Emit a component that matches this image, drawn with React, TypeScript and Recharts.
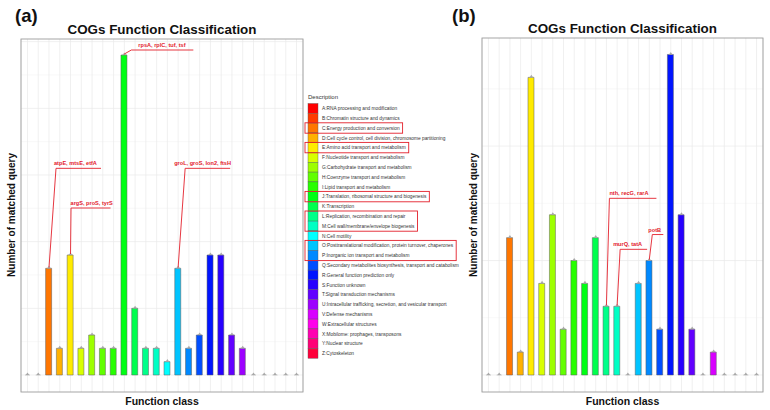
import React from 'react';
import { ComposedChart, Bar, Line, XAxis, YAxis, CartesianGrid, Cell } from 'recharts';

const categories = ['A','B','C','D','E','F','G','H','I','J','K','L','M','N','O','P','Q','R','S','T','U','V','W','X','Y','Z'];
const descriptions = [
  'A:RNA processing and modification',
  'B:Chromatin structure and dynamics',
  'C:Energy production and conversion',
  'D:Cell cycle control, cell division, chromosome partitioning',
  'E:Amino acid transport and metabolism',
  'F:Nucleotide transport and metabolism',
  'G:Carbohydrate transport and metabolism',
  'H:Coenzyme transport and metabolism',
  'I:Lipid transport and metabolism',
  'J:Translation, ribosomal structure and biogenesis',
  'K:Transcription',
  'L:Replication, recombination and repair',
  'M:Cell wall/membrane/envelope biogenesis',
  'N:Cell motility',
  'O:Posttranslational modification, protein turnover, chaperones',
  'P:Inorganic ion transport and metabolism',
  'Q:Secondary metabolites biosynthesis, transport and catabolism',
  'R:General function prediction only',
  'S:Function unknown',
  'T:Signal transduction mechanisms',
  'U:Intracellular trafficking, secretion, and vesicular transport',
  'V:Defense mechanisms',
  'W:Extracellular structures',
  'X:Mobilome: prophages, transposons',
  'Y:Nuclear structure',
  'Z:Cytoskeleton',
];
const valuesA = [0,0,8,2,9,2,3,2,2,24,5,2,2,1,8,2,3,9,9,3,2,0,0,0,0,0];
const valuesB = [0,0,6,1,13,4,7,2,5,4,6,3,3,0,4,5,2,14,7,2,0,1,0,0,0,0];
const yTicksA = [0,5,10,15,20,25];
const yMinorA = [2.5,7.5,12.5,17.5,22.5];
const yTicksB = [0,5,10];
const yMinorB = [2.5,7.5,12.5];
const annotationsA = [
  { cat: 'C', text: 'atpE,  mtsE, etfA' },
  { cat: 'E', text: 'argS, proS, tyrS' },
  { cat: 'J', text: 'rpsA, rplC,  tuf, tsf' },
  { cat: 'O', text: 'groL, groS,  lon2, ftsH' },
];
const annotationsB = [
  { cat: 'L', text: 'nth, recG,  rarA' },
  { cat: 'M', text: 'murQ,  tatA' },
  { cat: 'P', text: 'potB' },
];
const legendHighlights = [['C'],['E'],['J'],['L','M'],['O','P']];

// styles / layout
const colors = ['#FF0000','#FF3B00','#FF7600','#FFB100','#FFEB00','#D8FF00','#9DFF00','#62FF00','#27FF00','#00FF14','#00FF4E','#00FF89','#00FFC4','#00FFFF','#00C4FF','#0089FF','#004EFF','#0014FF','#2700FF','#6200FF','#9D00FF','#D800FF','#FF00EB','#FF00B1','#FF0076','#FF003B'];
const annotLayout: Record<string, { ex: number; ey: number; lx: number; tx: number; ty: number }> = {
  'a-C': { ex: 7, ey: -100, lx: 52, tx: 5, ty: -103 },
  'a-E': { ex: 0.5, ey: -47, lx: 40, tx: 0, ty: -50 },
  'a-J': { ex: 7, ey: -5, lx: 69, tx: 14, ty: -8 },
  'a-O': { ex: 7, ey: -100, lx: 52, tx: -4, ty: -103 },
  'b-L': { ex: 3, ey: -108, lx: 50, tx: 3, ty: -111 },
  'b-M': { ex: 3, ey: -57, lx: 30, tx: -4, ty: -60 },
  'b-P': { ex: 3, ey: -26, lx: 14, tx: -1, ty: -29 },
};
const RED = '#e3202b';
const FONT = '"Liberation Sans", Arial, Helvetica, sans-serif';

const dataA = categories.map((c, i) => ({ cat: c, value: valuesA[i] }));
const dataB = categories.map((c, i) => ({ cat: c, value: valuesB[i] }));

let ctx: CanvasRenderingContext2D | null = null;
function textWidth(t: string, size: number) {
  if (!ctx) ctx = document.createElement('canvas').getContext('2d');
  if (!ctx) return t.length * size * 0.5;
  ctx.font = `${size}px ${FONT}`;
  return ctx.measureText(t).width;
}

function makeDot(panel: string, annots: { cat: string; text: string }[]) {
  return (props: any) => {
    const cx = Number(props.cx);
    const y = Number(props.cy);
    const cat = props.payload ? props.payload.cat : categories[props.index];
    const an = annots.find((a) => a.cat === cat);
    const lay = annotLayout[`${panel}-${cat}`];
    return (
      <g key={`dot-${panel}-${cat}`}>
        <line x1={cx - 2.5} x2={cx + 2.5} y1={y} y2={y} stroke="#9a9a9a" strokeWidth={0.5} />
        <path d={`M${cx - 1.8},${y} L${cx + 1.8},${y} L${cx},${y - 2.6} Z`} fill="#a8a8a8" />
        {an && lay ? (
          <g>
            <polyline
              points={`${cx},${y - 1} ${cx + lay.ex},${y + lay.ey} ${cx + lay.lx},${y + lay.ey}`}
              fill="none"
              stroke={RED}
              strokeWidth={0.9}
            />
            <text x={cx + lay.tx} y={y + lay.ty} fontSize={5.6} fontWeight="bold" fill={RED} fontFamily={FONT}>
              {an.text}
            </text>
          </g>
        ) : null}
      </g>
    );
  };
}

function Panel(props: {
  data: { cat: string; value: number }[];
  width: number;
  margin: any;
  domain: [number, number];
  ticks: number[];
  minor: number[];
  padding: number;
  panel: string;
  annots: { cat: string; text: string }[];
}) {
  const { data, width, margin, domain, ticks, minor, padding, panel, annots } = props;
  return (
    <ComposedChart width={width} height={410} data={data} margin={margin} barSize={6}>
      <CartesianGrid horizontal={true} vertical={false} horizontalValues={minor} stroke="#f4f4f4" strokeWidth={0.6} />
      <CartesianGrid horizontal={true} vertical={true} horizontalValues={ticks} stroke="#e9e9e9" strokeWidth={0.7} />
      <XAxis
        dataKey="cat"
        type="category"
        interval={0}
        height={0}
        tickSize={0}
        tickMargin={2}
        axisLine={false}
        tickLine={false}
        padding={{ left: padding, right: padding }}
        tick={{ fontSize: 3, fill: '#777', fontFamily: FONT }}
      />
      <YAxis
        type="number"
        domain={domain}
        ticks={ticks}
        width={0}
        tickSize={0}
        tickMargin={3}
        axisLine={false}
        tickLine={false}
        allowDataOverflow={true}
        tick={{ fontSize: 3.2, fill: '#777', fontFamily: FONT }}
      />
      <Bar dataKey="value" isAnimationActive={false} stroke="#5d5d5d" strokeWidth={0.5}>
        {data.map((d, i) => (
          <Cell key={d.cat} fill={colors[i]} />
        ))}
      </Bar>
      <Line
        dataKey="value"
        isAnimationActive={false}
        stroke="none"
        strokeWidth={0}
        activeDot={false}
        legendType="none"
        dot={makeDot(panel, annots)}
      />
    </ComposedChart>
  );
}

function Legend() {
  const x0 = 308;
  const top = 103.5;
  const rowH = 9.8;
  const fs = 4.8;
  return (
    <g fontFamily={FONT}>
      <text x={x0} y={99} fontSize={6} fill="#333">Description</text>
      {categories.map((c, i) => (
        <g key={c}>
          <rect x={x0} y={top + i * rowH} width={10} height={rowH} fill={colors[i]} stroke="#555" strokeWidth={0.4} />
          <text x={x0 + 14} y={top + i * rowH + rowH / 2 + 1.7} fontSize={fs} fill="#333">
            {descriptions[i]}
          </text>
        </g>
      ))}
      {legendHighlights.map((grp) => {
        const idx = grp.map((g) => categories.indexOf(g));
        const first = Math.min(...idx);
        const maxW = Math.max(...idx.map((k) => textWidth(descriptions[k], fs)));
        return (
          <rect
            key={grp.join('')}
            x={x0 - 3}
            y={top + first * rowH - 0.3}
            width={17 + maxW + 3}
            height={grp.length * rowH + 0.6}
            fill="none"
            stroke={RED}
            strokeWidth={0.9}
          />
        );
      })}
    </g>
  );
}

export default function App() {
  return (
    <div style={{ position: 'absolute', left: 0, top: 0, width: 770, height: 410, background: '#fff', overflow: 'hidden' }}>
      <div style={{ position: 'absolute', left: 0, top: 0 }}>
        <Panel
          data={dataA}
          width={310}
          margin={{ top: 39, right: 7, bottom: 18, left: 21 }}
          domain={[-1.275, 25.2]}
          ticks={yTicksA}
          minor={yMinorA}
          padding={1.1}
          panel="a"
          annots={annotationsA}
        />
      </div>
      <div style={{ position: 'absolute', left: 470, top: 0 }}>
        <Panel
          data={dataB}
          width={300}
          margin={{ top: 38, right: 7, bottom: 18, left: 12 }}
          domain={[-0.742, 14.72]}
          ticks={yTicksB}
          minor={yMinorB}
          padding={1.1}
          panel="b"
          annots={annotationsB}
        />
      </div>
      <svg width={770} height={410} style={{ position: 'absolute', left: 0, top: 0, pointerEvents: 'none' }}>
        <rect x={21} y={39} width={282} height={353} fill="none" stroke="#9c9c9c" strokeWidth={0.9} />
        <rect x={482} y={38} width={281} height={354} fill="none" stroke="#9c9c9c" strokeWidth={0.9} />
        <g fontFamily={FONT} fontWeight="bold" fill="#111">
          <text x={15} y={21.5} fontSize={18.5}>(a)</text>
          <text x={452} y={21.5} fontSize={18.5}>(b)</text>
          <text x={162} y={33.5} fontSize={13.4} textAnchor="middle">COGs Function Classification</text>
          <text x={622.5} y={33} fontSize={13.4} textAnchor="middle">COGs Function Classification</text>
          <text x={162} y={404.5} fontSize={10.5} textAnchor="middle">Function class</text>
          <text x={622.5} y={404.5} fontSize={10.5} textAnchor="middle">Function class</text>
          <text transform="translate(14.5,215) rotate(-90)" fontSize={10} textAnchor="middle">Number of matched query</text>
          <text transform="translate(476.5,215) rotate(-90)" fontSize={10} textAnchor="middle">Number of matched query</text>
        </g>
        <Legend />
      </svg>
    </div>
  );
}
